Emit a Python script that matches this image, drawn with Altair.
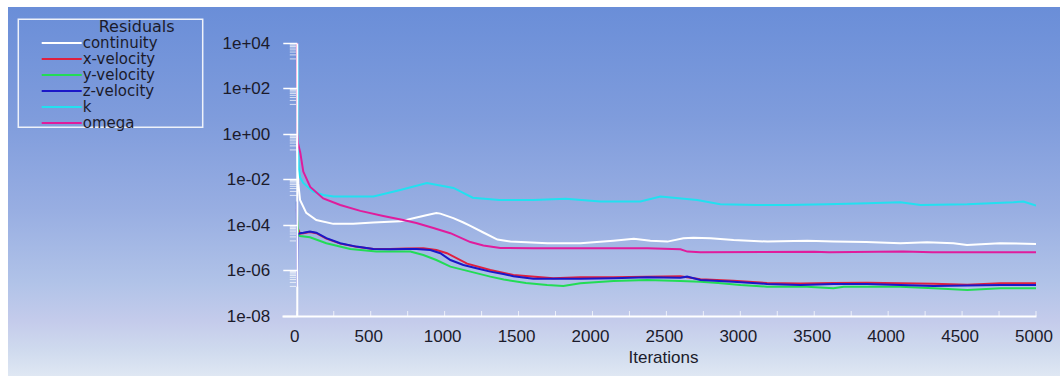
import altair as alt
import pandas as pd

# ---- residual histories (iteration, log10 of scaled residual) ----
series_names = ["continuity", "x-velocity", "y-velocity", "z-velocity", "k", "omega"]
series_colors = ["#ffffff", "#e0203e", "#22dc55", "#1a18c8", "#22e0f0", "#e01c9c"]

continuity_iter = [1, 5, 10, 22, 64, 132, 247, 382, 518, 700, 788, 883, 944, 971, 1059, 1127,
                   1174, 1262, 1357, 1445, 1695, 1918, 2142, 2280, 2392, 2507, 2615, 2683, 2798,
                   2954, 3184, 3454, 3630, 3850, 4083, 4263, 4442, 4533, 4756, 5000]
continuity_log = [0.0, -0.8, -2.16, -2.90, -3.47, -3.78, -3.95, -3.95, -3.89, -3.84, -3.70, -3.56,
                  -3.47, -3.50, -3.70, -3.89, -4.04, -4.33, -4.64, -4.73, -4.80, -4.80, -4.69, -4.61,
                  -4.69, -4.73, -4.58, -4.56, -4.58, -4.66, -4.73, -4.69, -4.73, -4.75, -4.80, -4.76,
                  -4.80, -4.88, -4.80, -4.83]

xvel_iter = [1, 3, 22, 44, 89, 132, 200, 294, 403, 518, 633, 741, 856, 944, 1016, 1152, 1309, 1465,
             1735, 1918, 2142, 2369, 2595, 2730, 2953, 3181, 3407, 3630, 3858, 4083, 4307, 4535,
             4760, 5000]
xvel_log = [-3.3, -4.1, -4.38, -4.36, -4.31, -4.36, -4.60, -4.82, -4.96, -5.05, -5.05, -5.03, -5.02,
            -5.10, -5.24, -5.70, -5.98, -6.20, -6.34, -6.30, -6.30, -6.27, -6.25, -6.38, -6.45,
            -6.55, -6.57, -6.55, -6.54, -6.56, -6.58, -6.63, -6.56, -6.56]

yvel_iter = [1, 3, 10, 22, 89, 200, 362, 538, 768, 856, 944, 1039, 1174, 1309, 1400, 1550, 1693,
             1803, 1918, 2142, 2369, 2595, 2730, 2850, 3001, 3181, 3450, 3630, 3700, 4083, 4307,
             4535, 4760, 5000]
yvel_log = [-3.0, -3.75, -4.45, -4.48, -4.54, -4.80, -5.05, -5.17, -5.17, -5.32, -5.54, -5.83,
            -6.05, -6.27, -6.40, -6.55, -6.64, -6.68, -6.56, -6.46, -6.42, -6.46, -6.49, -6.55,
            -6.64, -6.71, -6.71, -6.78, -6.71, -6.71, -6.78, -6.86, -6.78, -6.78]

zvel_iter = [1, 2, 5, 22, 44, 89, 132, 200, 294, 403, 518, 633, 741, 809, 903, 971, 1039, 1127,
             1215, 1309, 1397, 1465, 1600, 1918, 2142, 2369, 2595, 2640, 2730, 2953, 3181, 3407,
             3630, 3858, 4083, 4307, 4535, 4760, 5000]
zvel_log = [-2.97, -6.71, -4.40, -4.36, -4.34, -4.29, -4.34, -4.58, -4.80, -4.95, -5.05, -5.07,
            -5.05, -5.05, -5.10, -5.24, -5.54, -5.76, -5.90, -6.05, -6.15, -6.25, -6.36, -6.36,
            -6.34, -6.30, -6.32, -6.27, -6.42, -6.49, -6.59, -6.64, -6.59, -6.59, -6.64, -6.68,
            -6.66, -6.64, -6.64]

k_iter = [1, 3, 8, 12, 22, 44, 110, 180, 250, 518, 700, 880, 1060, 1190, 1370, 1600, 1820, 2053,
          2324, 2460, 2708, 2865, 3114, 3317, 3587, 3858, 4083, 4219, 4535, 4848, 4915, 5000]
k_log = [0.5, 3.9, 1.0, -1.4, -1.9, -2.15, -2.53, -2.68, -2.75, -2.75, -2.46, -2.16, -2.37, -2.80,
         -2.90, -2.90, -2.85, -2.97, -2.97, -2.75, -2.90, -3.09, -3.12, -3.12, -3.09, -3.04, -3.00,
         -3.12, -3.09, -3.00, -2.97, -3.15]

omega_iter = [1, 2, 4, 8, 24, 44, 91, 179, 294, 430, 585, 720, 809, 924, 1039, 1174, 1262, 1377,
              1600, 2053, 2371, 2595, 2642, 2730, 3500, 3600, 4100, 4300, 5000]
omega_log = [4.0, 1.5, 0.1, -0.4, -0.83, -1.65, -2.33, -2.83, -3.12, -3.38, -3.60, -3.78, -3.91,
             -4.13, -4.36, -4.75, -4.90, -5.01, -5.02, -5.02, -5.02, -5.07, -5.17, -5.20, -5.18,
             -5.20, -5.17, -5.20, -5.20]

histories = [
    ("continuity", continuity_iter, continuity_log),
    ("x-velocity", xvel_iter, xvel_log),
    ("y-velocity", yvel_iter, yvel_log),
    ("z-velocity", zvel_iter, zvel_log),
    ("k", k_iter, k_log),
    ("omega", omega_iter, omega_log),
]

# axis tick positions
y_major = [1e-8, 1e-6, 1e-4, 1e-2, 1e0, 1e2, 1e4]
y_minor = [m * 10.0 ** e for e in (3, 1, -1, -3, -5, -7) for m in range(2, 10)]
x_major = list(range(0, 5001, 500))
x_small = list(range(0, 5001, 250))

rows = []
for name, its, logs in histories:
    for it, lv in zip(its, logs):
        rows.append({"iteration": it, "residual": 10.0 ** lv, "series": name})
df = pd.DataFrame(rows)

FONT = "Liberation Sans"
LEGEND_FONT = "DejaVu Sans"
INK = "#1b1b2b"
W, H = 754, 273
PAD_L, PAD_T, PAD_R, PAD_B = 282, 43, 24, 60

x_scale = alt.Scale(domain=[-100, 5000], nice=False, zero=False)
y_scale = alt.Scale(type="log", domain=[1e-8, 1e4], nice=False)

x_axis = alt.Axis(
    values=x_major, format="d", labelFlush=False, labelOverlap=False,
    ticks=False, tickSize=0, labelPadding=12.7, labelOffset=-2.5,
    domainColor="white", domainWidth=2, grid=False, zindex=1,
    labelFont=FONT, labelFontSize=17, labelColor=INK,
    title="Iterations", titleFont=FONT, titleFontSize=17, titleFontWeight="normal",
    titleColor=INK, titleX=381, titleY=46.5, titleBaseline="alphabetic", titleAlign="center",
)
y_axis = alt.Axis(
    values=y_major, labelFlush=False, labelOverlap=False,
    labelExpr="'1e' + (datum.value < 1 ? '-' : '+') + (abs(round(log(datum.value)/LN10)) < 10 ? '0' : '') + abs(round(log(datum.value)/LN10))",
    tickSize=14, tickColor="white", tickWidth=1.5, labelPadding=13, offset=-14.78,
    domainColor="white", domainWidth=2, grid=False, title=None, zindex=1,
    labelFont=FONT, labelFontSize=17, labelColor=INK,
)

one_row = alt.Data(values=[{}])

# page gradient behind everything
backdrop = alt.Chart(one_row).mark_rect(
    fill={
        "gradient": "linear", "x1": 0, "x2": 0, "y1": 0, "y2": 1,
        "stops": [
            {"offset": 0.0, "color": "#6a8ed8"},
            {"offset": 0.3, "color": "#7f9cdc"},
            {"offset": 0.55, "color": "#98aee2"},
            {"offset": 0.75, "color": "#b1c3e8"},
            {"offset": 0.85, "color": "#c4cbeb"},
            {"offset": 0.93, "color": "#cfdaee"},
            {"offset": 1.0, "color": "#dfe7f3"},
        ],
    }
).encode(
    x=alt.value(8 - PAD_L), x2=alt.value(1060 - PAD_L),
    y=alt.value(7 - PAD_T), y2=alt.value(376 - PAD_T),
)

# frame around the legend
legend_frame = alt.Chart(one_row).mark_rect(
    fill=None, stroke="#eef2fa", strokeWidth=1.5
).encode(
    x=alt.value(18.3 - PAD_L), x2=alt.value(202.7 - PAD_L),
    y=alt.value(19.3 - PAD_T), y2=alt.value(127.3 - PAD_T),
)

lines = alt.Chart(df).mark_line(strokeWidth=2, clip=True).encode(
    x=alt.X("iteration:Q", scale=x_scale, axis=x_axis),
    y=alt.Y("residual:Q", scale=y_scale, axis=y_axis),
    color=alt.Color(
        "series:N",
        scale=alt.Scale(domain=series_names, range=series_colors),
        sort=series_names,
        legend=alt.Legend(
            orient="none", legendX=40.7 - PAD_L, legendY=18.5 - PAD_T, padding=0,
            title="Residuals", titleFont=LEGEND_FONT, titleFontSize=16, titleFontWeight="normal",
            titleColor=INK, titleAnchor="middle", titleAlign="left", titlePadding=1.0,
            symbolType="stroke", symbolSize=1600, symbolStrokeWidth=2, clipHeight=15,
            labelFont=LEGEND_FONT, labelFontSize=15, labelColor=INK, labelOffset=0,
            rowPadding=-0.8,
        ),
    ),
    strokeWidth=alt.StrokeWidth(
        "series:N",
        scale=alt.Scale(domain=series_names, range=[1.8, 2, 2, 2, 3, 2]),
        legend=None,
    ),
)

minor_y = alt.Chart(pd.DataFrame({"residual": y_minor})).mark_tick(
    orient="horizontal", size=7, thickness=1, color="white", xOffset=-3.5
).encode(
    x=alt.datum(0, scale=x_scale),
    y=alt.Y("residual:Q", scale=y_scale, axis=y_axis),
)

ticks_x = alt.Chart(pd.DataFrame({"iteration": x_small})).mark_tick(
    orient="vertical", size=5, thickness=1, color="white", yOffset=-2.5
).encode(
    x=alt.X("iteration:Q", scale=x_scale, axis=x_axis),
    y=alt.datum(1e-8, scale=y_scale),
)

chart = alt.layer(backdrop, legend_frame, minor_y, ticks_x, lines).properties(
    width=W, height=H,
    autosize=alt.AutoSizeParams(type="none"),
    padding={"left": PAD_L, "top": PAD_T, "right": PAD_R, "bottom": PAD_B},
    background="white",
).configure_view(stroke=None)

chart.save("out.html", embed_options={"renderer": "svg", "actions": False})
